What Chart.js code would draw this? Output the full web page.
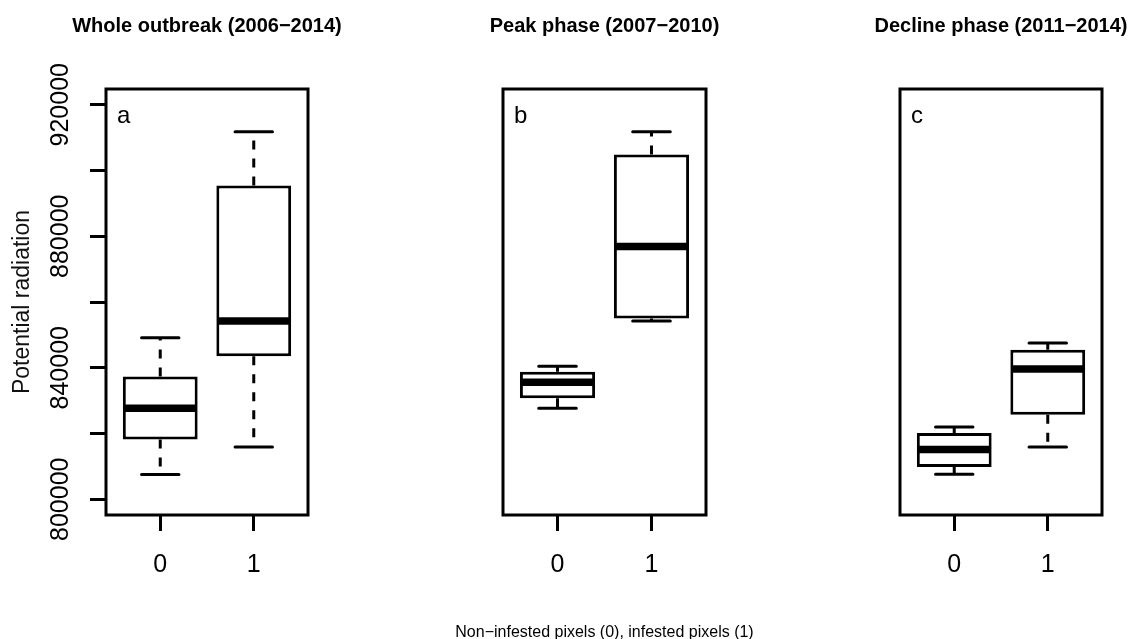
<!DOCTYPE html>
<html>
<head>
<meta charset="utf-8">
<title>Potential radiation boxplots</title>
<script src="https://cdn.jsdelivr.net/npm/chart.js@4.4.1/dist/chart.umd.min.js"></script>
<style>
  body { margin: 0; background: #fff; width: 1133px; height: 639px; overflow: hidden; position: relative; }
  .panel { position: absolute; top: 0; height: 639px; }
  canvas { display: block; }
</style>
</head>
<body>
<div class="panel" style="left:0px;width:360px"><canvas id="panelA" width="360" height="639"></canvas></div>
<div class="panel" style="left:440px;width:330px"><canvas id="panelB" width="330" height="639"></canvas></div>
<div class="panel" style="left:860px;width:273px"><canvas id="panelC" width="273" height="639"></canvas></div>
<script>
// Panels and groups
const panelTitles = ['Whole outbreak (2006\u22122014)', 'Peak phase (2007\u22122010)', 'Decline phase (2011\u22122014)'];
const panelLetters = ['a', 'b', 'c'];
const groupLabels = ['0', '1'];
const groupPositions = [1, 2];

// Box statistics, one [group 0, group 1] pair per panel
const whiskerLow    = [[807500, 815900], [827700, 854200], [807600, 815900]];
const lowerQuartile = [[818200, 843500], [830750, 855000], [809800, 825700]];
const medians       = [[827700, 854200], [835600, 876850], [815150, 839650]];
const upperQuartile = [[837300, 895450], [838800, 904900], [820150, 845500]];
const whiskerHigh   = [[849100, 911800], [840450, 911800], [821950, 847500]];

// Axes
const yTicks = [800000, 820000, 840000, 860000, 880000, 900000, 920000];
const yLabelledTicks = [800000, 840000, 880000, 920000];
const yMin = 795200, yMax = 924800;
const xMin = 0.42, xMax = 2.58;
const yAxisTitle = 'Potential radiation';
const xAxisTitle = 'Non\u2212infested pixels (0), infested pixels (1)';

const FONT = "'Liberation Sans', Arial, Helvetica, sans-serif";

// whiskers, caps, medians, frame, titles and rotated y labels
const boxplotExtras = {
    id: 'boxplotExtras',
    beforeDatasetsDraw(chart, args, opts) {
        const ctx = chart.ctx;
        const y = chart.scales.y;
        const p = opts.panel;
        const bars = chart.getDatasetMeta(0).data;
        ctx.save();
        ctx.strokeStyle = '#000';
        ctx.lineWidth = 3;
        bars.forEach((bar, i) => {
            const capHalf = bar.width / 4;
            // dashed whiskers from the box to the extremes
            ctx.setLineDash([9, 9]);
            ctx.lineCap = 'butt';
            ctx.beginPath();
            ctx.moveTo(bar.x, y.getPixelForValue(upperQuartile[p][i]));
            ctx.lineTo(bar.x, y.getPixelForValue(whiskerHigh[p][i]));
            ctx.moveTo(bar.x, y.getPixelForValue(lowerQuartile[p][i]));
            ctx.lineTo(bar.x, y.getPixelForValue(whiskerLow[p][i]));
            ctx.stroke();
            // staples
            ctx.setLineDash([]);
            ctx.lineCap = 'round';
            ctx.beginPath();
            [whiskerHigh[p][i], whiskerLow[p][i]].forEach(v => {
                const py = y.getPixelForValue(v);
                ctx.moveTo(bar.x - capHalf, py);
                ctx.lineTo(bar.x + capHalf, py);
            });
            ctx.stroke();
        });
        ctx.restore();
    },
    afterDatasetsDraw(chart, args, opts) {
        const ctx = chart.ctx;
        const y = chart.scales.y;
        const p = opts.panel;
        const bars = chart.getDatasetMeta(0).data;
        ctx.save();
        ctx.strokeStyle = '#000';
        ctx.lineWidth = 7.5;
        ctx.lineCap = 'butt';
        bars.forEach((bar, i) => {
            const py = y.getPixelForValue(medians[p][i]);
            ctx.beginPath();
            ctx.moveTo(bar.x - bar.width / 2 + 1, py);
            ctx.lineTo(bar.x + bar.width / 2 - 1, py);
            ctx.stroke();
        });
        ctx.restore();
    },
    afterDraw(chart, args, opts) {
        const ctx = chart.ctx;
        const area = chart.chartArea;
        const y = chart.scales.y;
        const midX = (area.left + area.right) / 2;
        ctx.save();
        ctx.strokeStyle = '#000';
        ctx.lineWidth = 3;
        ctx.strokeRect(area.left, area.top, area.right - area.left, area.bottom - area.top);

        ctx.fillStyle = '#000';
        ctx.textBaseline = 'alphabetic';

        // panel title
        ctx.font = 'bold 20px ' + FONT;
        ctx.textAlign = 'center';
        ctx.fillText(panelTitles[opts.panel], midX, 32);

        // panel letter
        ctx.font = '24px ' + FONT;
        ctx.textAlign = 'left';
        ctx.fillText(panelLetters[opts.panel], area.left + 11, area.top + 34);

        if (opts.xTitle) {
            ctx.font = '16px ' + FONT;
            ctx.textAlign = 'center';
            ctx.fillText(xAxisTitle, midX, 637);
        }

        if (opts.yLabels) {
            ctx.font = '25px ' + FONT;
            ctx.textAlign = 'center';
            yLabelledTicks.forEach(v => {
                ctx.save();
                ctx.translate(68, y.getPixelForValue(v));
                ctx.rotate(-Math.PI / 2);
                ctx.fillText(String(v), 0, 0);
                ctx.restore();
            });
        }
        ctx.restore();
    }
};

function makePanel(canvasId, p, padLeft, padRight, withYAxis, withXTitle) {
    const ctx = document.getElementById(canvasId).getContext('2d');
    return new Chart(ctx, {
        type: 'bar',
        data: {
            datasets: [{
                data: groupPositions.map((x, i) => ({ x: x, y: [lowerQuartile[p][i], upperQuartile[p][i]] })),
                backgroundColor: '#ffffff',
                borderColor: '#000000',
                borderWidth: 3,
                borderSkipped: false,
                barPercentage: 0.8,
                categoryPercentage: 1.0
            }]
        },
        options: {
            responsive: false,
            animation: false,
            events: [],
            layout: { padding: { left: padLeft, right: padRight, top: 89, bottom: 0 } },
            plugins: {
                legend: { display: false },
                tooltip: { enabled: false },
                title: { display: false },
                boxplotExtras: { panel: p, yLabels: withYAxis, xTitle: withXTitle }
            },
            scales: {
                x: {
                    type: 'linear',
                    min: xMin,
                    max: xMax,
                    offset: false,
                    afterBuildTicks: scale => { scale.ticks = groupPositions.map(v => ({ value: v })); },
                    afterFit: scale => { scale.height = 124; },
                    border: { display: false },
                    grid: { offset: false, drawOnChartArea: false, drawTicks: true, tickLength: 16, color: '#000', lineWidth: 3 },
                    ticks: {
                        color: '#000',
                        font: { family: FONT, size: 25 },
                        padding: 19,
                        maxRotation: 0,
                        autoSkip: false,
                        callback: value => groupLabels[groupPositions.indexOf(value)]
                    }
                },
                y: {
                    type: 'linear',
                    display: withYAxis,
                    min: yMin,
                    max: yMax,
                    afterBuildTicks: scale => { scale.ticks = yTicks.map(v => ({ value: v })); },
                    afterFit: scale => { scale.width = withYAxis ? 106 : 0; },
                    border: { display: false },
                    grid: { drawOnChartArea: false, drawTicks: true, tickLength: 16, color: '#000', lineWidth: 3 },
                    ticks: { display: false },
                    title: {
                        display: true,
                        text: yAxisTitle,
                        color: '#111',
                        font: { family: FONT, size: 23 },
                        padding: { top: 9, bottom: 0 }
                    }
                }
            }
        },
        plugins: [boxplotExtras]
    });
}

makePanel('panelA', 0, 0, 52, true, false);
makePanel('panelB', 1, 63, 64, false, true);
makePanel('panelC', 2, 40, 31, false, false);
</script>
</body>
</html>
